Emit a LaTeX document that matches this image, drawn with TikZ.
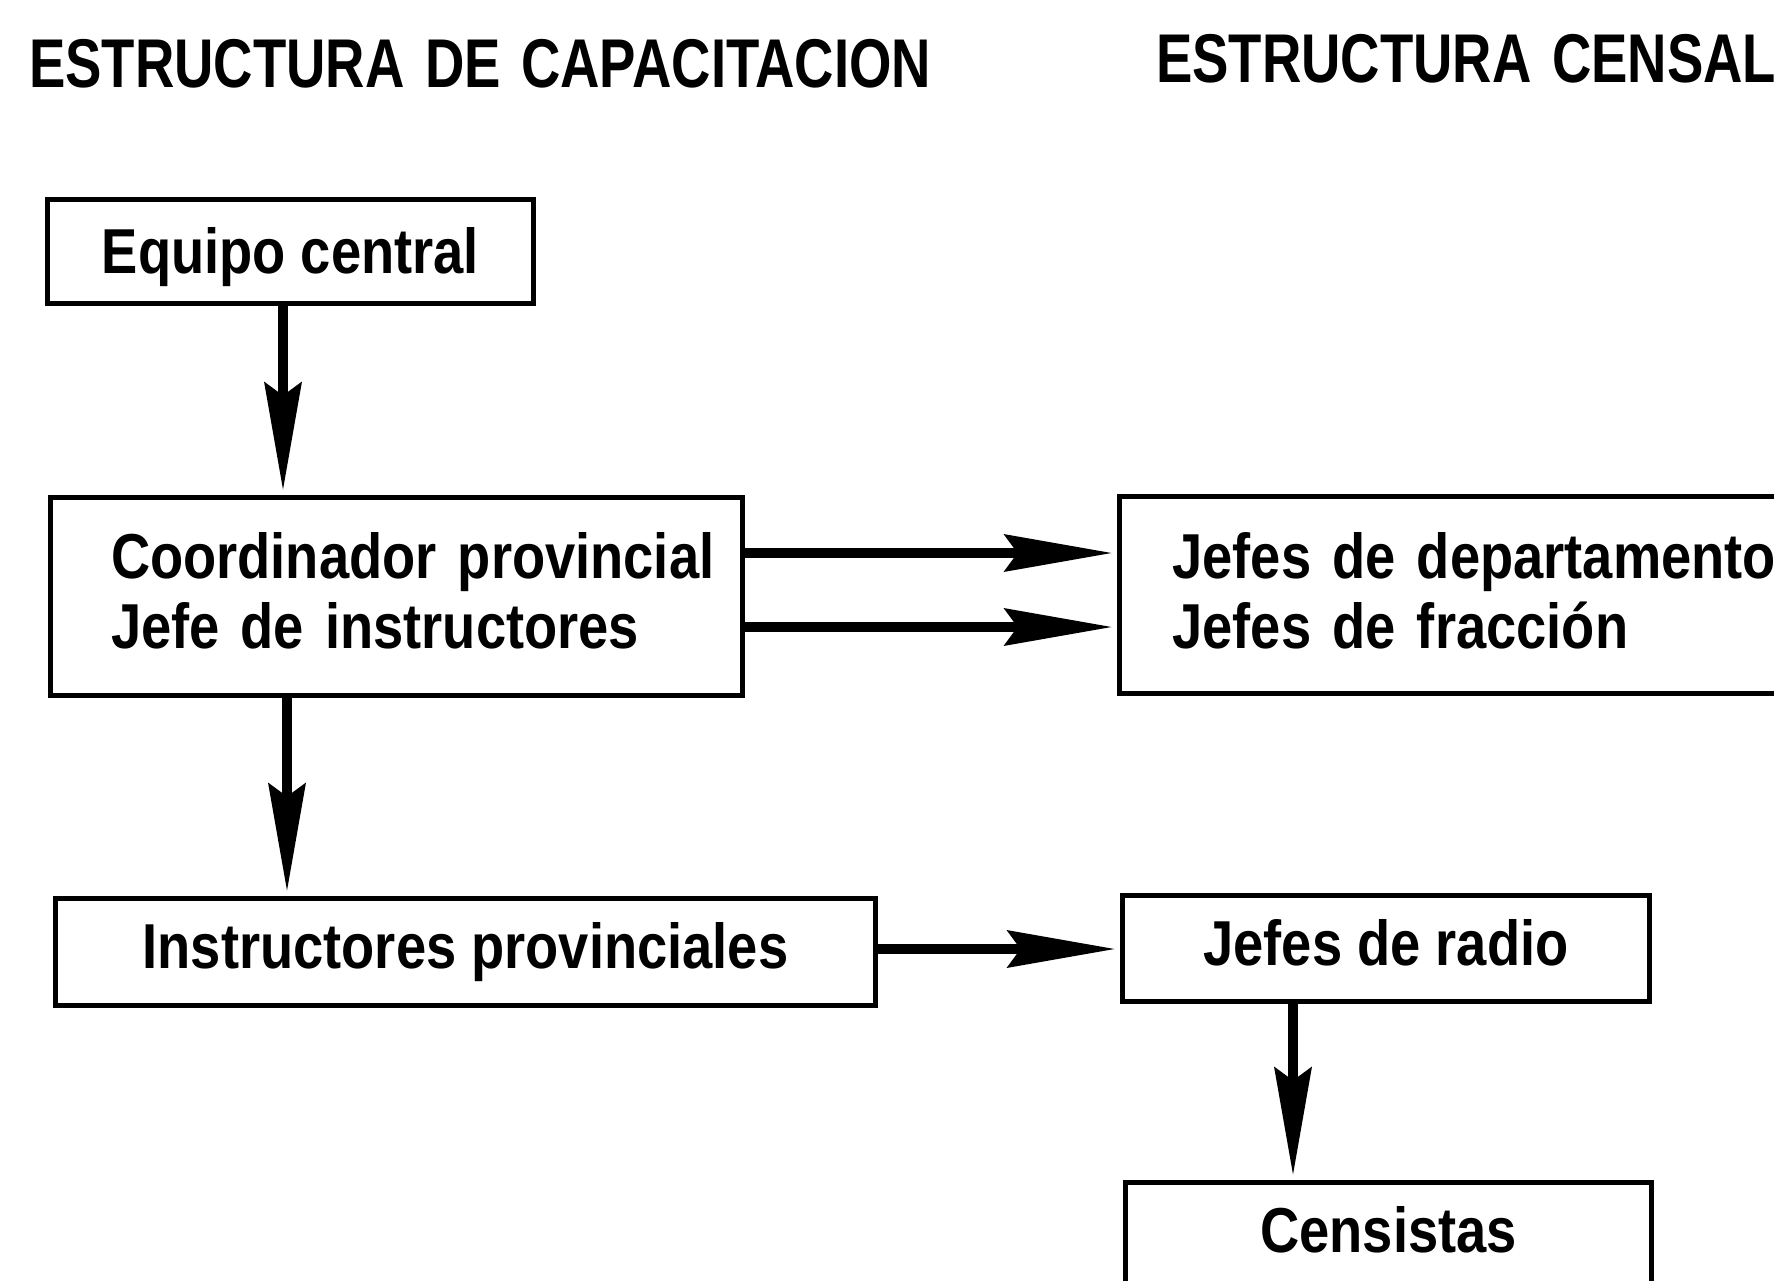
\documentclass[tikz,border=0pt]{standalone}
\usepackage{fontspec}
\newfontfamily\bodyfont{Liberation Sans}[FakeStretch=0.855]
\newfontfamily\titlefont{Liberation Sans}[FakeStretch=0.79,WordSpace=1.35]
\usetikzlibrary{arrows.meta}
\begin{document}
\begin{tikzpicture}[x=1pt,y=-1pt,
  box/.style={draw,line width=5pt,rectangle,inner sep=0pt,outer sep=0pt,
    font=\bodyfont\bfseries\fontsize{63.5}{70}\selectfont},
  ttl/.style={inner sep=0pt,anchor=base west,
    font=\titlefont\bfseries\fontsize{69}{80}\selectfont},
  arr/.style={line width=10pt,
    -{Stealth[length=108pt,width=38pt,inset=14pt,line width=0pt]},
    shorten >=8pt}]
\useasboundingbox (0,0) rectangle (1774,1280);
\clip (0,0) rectangle (1774,1280);

\node[ttl] (t1) at (29,87) {ESTRUCTURA DE CAPACITACION};
\node[ttl] (t2) at (1156,82) {ESTRUCTURA CENSAL};

\node[box,minimum width=486pt,minimum height=104pt,text height=46pt,text depth=3pt]
  (eq) at (290.5,251.5) {Equipo central};
\node[box,anchor=west,minimum height=198pt,inner xsep=60.5pt,text width=571pt,
  align=left,text height=48pt,text depth=85pt]
  (coord) at (50.5,596.5) {\mbox{Coordinador provincial}\\\mbox{Jefe de instructores}};
\node[box,anchor=west,minimum height=197pt,inner xsep=53pt,text width=700pt,
  align=left,text height=48pt,text depth=82pt]
  (jd) at (1119.5,595) {\mbox{Jefes de departamento}\\\mbox{Jefes de fracción}};
\node[box,minimum width=820pt,minimum height=107pt,text height=46pt,text depth=13pt]
  (inst) at (465.5,952) {Instructores provinciales};
\node[box,minimum width=527pt,minimum height=106pt,text height=46pt,text depth=13pt]
  (jr) at (1386,948.5) {Jefes de radio};
\node[box,minimum width=526pt,minimum height=106pt,text height=46pt,text depth=13pt]
  (cen) at (1388.5,1235.5) {Censistas};

\coordinate (c1) at (283,0);
\coordinate (c2) at (287,0);
\coordinate (c3) at (1293,0);
\coordinate (r1) at (0,553);
\coordinate (r2) at (0,627);
\coordinate (r3) at (0,949);

\draw[arr] (eq.south -| c1) -- (coord.north -| c1);
\draw[arr] (coord.south -| c2) -- (inst.north -| c2);
\draw[arr] (jr.south -| c3) -- (cen.north -| c3);
\draw[arr] (coord.east |- r1) -- (jd.west |- r1);
\draw[arr] (coord.east |- r2) -- (jd.west |- r2);
\draw[arr] (inst.east |- r3) -- (jr.west |- r3);
\end{tikzpicture}
\end{document}
